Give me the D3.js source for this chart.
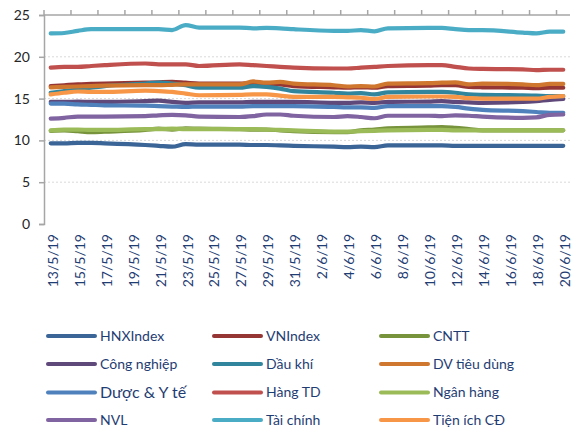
<!DOCTYPE html>
<html><head><meta charset="utf-8">
<script src="https://cdn.jsdelivr.net/npm/d3@7"></script>
<style>
body{margin:0;background:#fff;}
text{font-family:Lato,"Open Sans",sans-serif;}
</style></head>
<body>
<svg id="chart" width="581" height="430"></svg>
<script>
// ---- data ----
const days = ["13/5/19","14/5/19","15/5/19","16/5/19","17/5/19","18/5/19","19/5/19","20/5/19","21/5/19","22/5/19",
  "23/5/19","24/5/19","25/5/19","26/5/19","27/5/19","28/5/19","29/5/19","30/5/19","31/5/19","1/6/19",
  "2/6/19","3/6/19","4/6/19","5/6/19","6/6/19","7/6/19","8/6/19","9/6/19","10/6/19","11/6/19",
  "12/6/19","13/6/19","14/6/19","15/6/19","16/6/19","17/6/19","18/6/19","19/6/19","20/6/19"];
const tickLabels = ["13/5/19","15/5/19","17/5/19","19/5/19","21/5/19","23/5/19","25/5/19","27/5/19","29/5/19","31/5/19",
  "2/6/19","4/6/19","6/6/19","8/6/19","10/6/19","12/6/19","14/6/19","16/6/19","18/6/19","20/6/19"];
const tradingDays = ["13/5/19","14/5/19","15/5/19","16/5/19","17/5/19","20/5/19","21/5/19","22/5/19","23/5/19","24/5/19",
  "27/5/19","28/5/19","29/5/19","30/5/19","31/5/19","3/6/19","4/6/19","5/6/19","6/6/19","7/6/19",
  "10/6/19","11/6/19","12/6/19","13/6/19","14/6/19","17/6/19","18/6/19","19/6/19","20/6/19"];
const yTicks = [0,5,10,15,20,25];

const HNXIndex   = [9.65,9.65,9.7,9.7,9.65,9.45,9.35,9.25,9.55,9.5,9.5,9.45,9.45,9.4,9.35,9.25,9.2,9.25,9.2,9.4,9.4,9.4,9.35,9.35,9.35,9.35,9.35,9.35,9.35];
const VNIndex    = [16.5,16.6,16.7,16.75,16.8,16.9,16.95,17.0,16.9,16.8,16.8,16.85,16.8,16.7,16.5,16.35,16.3,16.35,16.3,16.5,16.55,16.6,16.6,16.4,16.35,16.3,16.25,16.3,16.3];
const CNTT       = [11.15,11.2,11.1,11.0,11.05,11.25,11.4,11.3,11.45,11.4,11.35,11.3,11.3,11.2,11.1,11.0,11.0,11.2,11.3,11.45,11.55,11.6,11.5,11.35,11.2,11.2,11.2,11.2,11.2];
const CongNghiep = [14.6,14.6,14.65,14.6,14.6,14.7,14.75,14.6,14.5,14.55,14.55,14.6,14.6,14.6,14.6,14.5,14.5,14.55,14.5,14.6,14.65,14.7,14.6,14.55,14.5,14.6,14.7,14.85,14.95];
const DauKhi     = [15.7,15.9,16.1,16.3,16.5,16.8,16.9,16.8,16.6,16.3,16.3,16.5,16.4,16.2,15.9,15.7,15.6,15.65,15.5,15.75,15.8,15.8,15.7,15.5,15.45,15.4,15.35,15.3,15.3];
const DVTieuDung = [16.35,16.4,16.45,16.5,16.55,16.6,16.6,16.65,16.7,16.7,16.7,17.05,16.9,17.0,16.8,16.6,16.45,16.5,16.45,16.8,16.85,16.9,16.95,16.7,16.8,16.7,16.6,16.75,16.75];
const DuocYTe    = [14.4,14.4,14.3,14.25,14.2,14.15,14.1,14.05,14.0,14.05,14.05,14.1,14.1,14.1,14.1,14.0,13.95,13.95,13.9,14.1,14.1,14.1,14.0,13.8,13.65,13.5,13.4,13.3,13.3];
const HangTD     = [18.7,18.8,18.8,18.9,19.0,19.2,19.1,19.1,19.1,18.9,19.1,19.0,18.9,18.8,18.7,18.6,18.6,18.7,18.8,18.9,19.0,19.0,18.8,18.6,18.55,18.5,18.4,18.45,18.45];
const NganHang   = [11.2,11.3,11.3,11.25,11.25,11.35,11.35,11.4,11.35,11.35,11.35,11.35,11.3,11.25,11.2,11.05,11.05,11.1,11.15,11.2,11.25,11.25,11.2,11.2,11.2,11.2,11.2,11.2,11.2];
const NVL        = [12.6,12.7,12.85,12.85,12.85,12.9,13.0,13.05,13.0,12.85,12.8,12.9,13.1,13.1,12.95,12.8,12.9,12.8,12.65,12.95,12.95,12.9,13.0,12.95,12.85,12.7,12.75,13.05,13.1];
const TaiChinh   = [22.8,22.85,23.1,23.3,23.3,23.3,23.3,23.2,23.8,23.5,23.5,23.4,23.45,23.4,23.3,23.1,23.1,23.2,23.05,23.4,23.45,23.45,23.3,23.2,23.2,22.9,22.8,23.0,23.0];
const TienIchCD  = [15.5,15.7,15.85,15.8,15.8,15.95,15.9,15.8,15.6,15.4,15.45,15.5,15.5,15.35,15.2,15.2,15.15,15.1,14.95,15.2,15.25,15.25,15.2,15.05,15.0,15.0,15.0,15.2,15.3];

const seriesNames  = ["HNXIndex","VNIndex","CNTT","Công nghiệp","Dầu khí","DV tiêu dùng","Dược & Y tế","Hàng TD","Ngân hàng","NVL","Tài chính","Tiện ích CĐ"];
const seriesValues = [HNXIndex,VNIndex,CNTT,CongNghiep,DauKhi,DVTieuDung,DuocYTe,HangTD,NganHang,NVL,TaiChinh,TienIchCD];
const seriesColors = ["#3B6597","#963634","#77933C","#5F497A","#31859C","#D0772F","#4F81BD","#C0504D","#9BBB59","#8064A2","#4BACC6","#F79646"];

// ---- layout ----
const svg = d3.select("#chart");
const pLeft = 44, pRight = 570, pTop = 15, pBottom = 224;
const x = d3.scaleBand().domain(days).range([pLeft, pRight]).padding(0);
const y = d3.scaleLinear().domain([0, 25]).range([pBottom, pTop]);
const cx = d => x(d) + x.bandwidth() / 2;

// gridlines
svg.append("g").selectAll("line").data(yTicks.filter(t => t > 0 && t < 25)).join("line")
  .attr("x1", pLeft).attr("x2", pRight).attr("y1", d => y(d)).attr("y2", d => y(d))
  .attr("stroke", "#D9D9D9").attr("stroke-width", 1).attr("stroke-dasharray", "2,2");

// left axis
const yAxis = svg.append("g").attr("transform", `translate(${pLeft},0)`)
  .call(d3.axisLeft(y).tickValues(yTicks).tickSize(5).tickPadding(9).tickFormat(d3.format("d")));
yAxis.select(".domain").attr("stroke", "#A6A6A6").attr("stroke-width", 1.5);
yAxis.selectAll(".tick line").attr("stroke", "#A6A6A6").attr("stroke-width", 1.5);
yAxis.selectAll(".tick text").attr("fill", "#262626").style("font-size", "14px").style("font-family", "Lato");

// top category axis line with ticks every 2 days
const tickIdx = d3.range(0, days.length, 2);
const topAxis = svg.append("g");
topAxis.append("line").attr("x1", pLeft).attr("x2", pRight).attr("y1", pTop).attr("y2", pTop)
  .attr("stroke", "#A6A6A6").attr("stroke-width", 1.5);
topAxis.selectAll("line.t").data(tickIdx).join("line").attr("class", "t")
  .attr("x1", i => x(days[i])).attr("x2", i => x(days[i]))
  .attr("y1", pTop).attr("y2", pTop - 5).attr("stroke", "#A6A6A6").attr("stroke-width", 1.5);

// x labels (rotated)
svg.append("g").selectAll("text").data(tickLabels).join("text")
  .attr("transform", d => `translate(${cx(d) + 2},234) rotate(-90)`)
  .attr("text-anchor", "end").attr("dy", "0.35em")
  .attr("fill", "#1F3D73").style("font-size", "14px")
  .text(d => d);

// lines
const line = d3.line().x((v, i) => cx(tradingDays[i])).y(v => y(v)).curve(d3.curveMonotoneX);
svg.append("g").selectAll("path").data(seriesValues).join("path")
  .attr("d", d => line(d)).attr("fill", "none")
  .attr("stroke", (d, i) => seriesColors[i]).attr("stroke-width", 4.2)
  .attr("stroke-linecap", "round").attr("stroke-linejoin", "round");

// legend
const colX = [47, 213, 380], rowY = [336, 364, 392.5, 420];
const lg = svg.append("g").selectAll("g").data(seriesNames).join("g")
  .attr("transform", (d, i) => `translate(${colX[i % 3]},${rowY[Math.floor(i / 3)]})`);
lg.append("line").attr("x1", 1).attr("x2", 48).attr("y1", 0).attr("y2", 0)
  .attr("stroke", (d, i) => seriesColors[i]).attr("stroke-width", 4).attr("stroke-linecap", "round");
lg.append("text").attr("x", 53).attr("dy", "0.35em")
  .attr("fill", "#1F3D73").style("font-size", d => d === "Dược & Y tế" ? "16px" : "14px")
  .text(d => d);
</script>
</body></html>
